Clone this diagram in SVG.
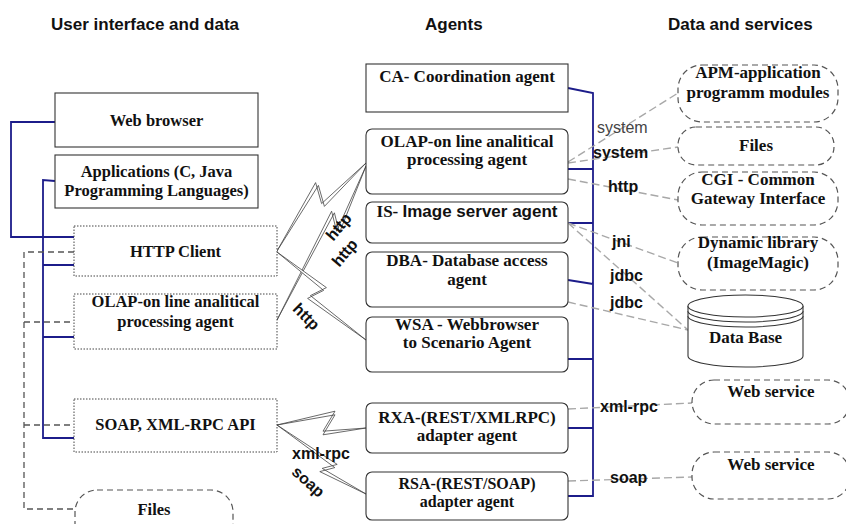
<svg xmlns="http://www.w3.org/2000/svg" width="846" height="524" viewBox="0 0 846 524">
  <style>
    .hdr { font-family: "Liberation Sans", Arial, sans-serif; font-weight: bold; font-size: 17px; fill: #111; }
    .t { font-family: "Liberation Serif", "Times New Roman", serif; font-weight: bold; font-size: 17px; fill: #111; text-anchor: middle; }
    .tl { font-family: "Liberation Serif", "Times New Roman", serif; font-weight: bold; font-size: 16.5px; fill: #111; text-anchor: middle; }
    .sm { font-size: 16px; }
    .sans { font-family: "Liberation Sans", Arial, sans-serif; }
    .lbl { font-family: "Liberation Sans", Arial, sans-serif; font-weight: bold; font-size: 16px; fill: #111; }
    .lbl-r { font-family: "Liberation Sans", Arial, sans-serif; font-size: 16px; fill: #444; }
    .box { fill: #fff; stroke: #333; stroke-width: 1.1; }
    .dotbox { fill: #fff; stroke: #444; stroke-width: 1; stroke-dasharray: 1.5 1.5; }
    .pill { fill: #fff; stroke: #555; stroke-width: 1.2; stroke-dasharray: 6 4; }
    .blue { fill: none; stroke: #1c1c8a; stroke-width: 1.8; }
    .gl { fill: none; stroke: #a8a8a8; stroke-width: 1.4; stroke-dasharray: 8 4; }
    .gd { fill: none; stroke: #555; stroke-width: 1.3; stroke-dasharray: 6 4; }
    .bolt { fill: #fff; stroke: #444; stroke-width: 0.8; stroke-linejoin: miter; }
    .db { fill: #fff; stroke: #333; stroke-width: 1.1; }
  </style>

  <!-- column headings -->
  <g id="headings">
    <text class="hdr" x="51" y="30">User interface and data</text>
    <text class="hdr" x="425" y="30">Agents</text>
    <text class="hdr" x="668" y="30">Data and services</text>
  </g>

  <!-- connectors -->
  <g id="connectors">
    <!-- left bus lines -->
    <path class="blue" d="M55,122 H11 V237 H74"/>
    <path class="blue" d="M55,181 L43,180 V438 H74 M43,265 H74 M43,337 H74"/>
    <path class="gd" d="M74,252 H24 V509 H75 M24,322 H74 M24,425 H74"/>

    <!-- agent bus -->
    <path class="blue" d="M568,88 L593,93 V496 H568 M568,169 H593 M568,223 H593 M568,280 L593,284 M568,359 H593 M568,428 H593"/>

    <!-- links to data and services -->
    <path class="gl" d="M568,162 L678,93"/>
    <path class="gl" d="M568,163 L678,147"/>
    <path class="gl" d="M568,179 L678,200"/>
    <path class="gl" d="M568,223 L678,263"/>
    <path class="gl" d="M568,223 L688,330"/>
    <path class="gl" d="M568,302 L688,330"/>
    <path class="gl" d="M568,409 L692,403"/>
    <path class="gl" d="M568,481 L692,477"/>

    <!-- lightning links -->
    <polygon class="bolt" points="277,251 315.6,182.6 321.6,203.6 366,163 324.4,206.4 318.4,185.4"/>
    <polygon class="bolt" points="277,320 331.6,211.2 336.6,231.2 366,166 339.4,232.8 334.4,212.8"/>
    <polygon class="bolt" points="277,252 326.4,287.6 310.4,295.6 366,340 307.6,298.4 323.6,290.4"/>
    <polygon class="bolt" points="277,425 335,411.2 323,431.2 366,428 323,434.8 335,414.8"/>
    <polygon class="bolt" points="277,425 337.2,464.4 322.2,468.4 366,494 319.8,471.6 334.8,467.6"/>

    <!-- link labels -->
    <text class="lbl" text-anchor="middle" transform="translate(339,227) rotate(-50)" y="5">http</text>
    <text class="lbl" text-anchor="middle" transform="translate(345,253) rotate(-50)" y="5">http</text>
    <text class="lbl" text-anchor="middle" transform="translate(306,317) rotate(45)" y="5">http</text>
    <text class="lbl" x="292" y="459">xml-rpc</text>
    <text class="lbl" text-anchor="middle" transform="translate(308,482) rotate(42)" y="5">soap</text>

    <text class="lbl-r" x="597" y="133">system</text>
    <text class="lbl" x="593" y="158">system</text>
    <text class="lbl" x="608" y="192">http</text>
    <text class="lbl" x="612" y="247">jni</text>
    <text class="lbl" x="610" y="281">jdbc</text>
    <text class="lbl" x="610" y="308">jdbc</text>
    <text class="lbl" x="600" y="412">xml-rpc</text>
    <text class="lbl" x="610" y="483">soap</text>
  </g>

  <!-- user interface and data -->
  <g id="web-browser">
    <rect class="box" x="55" y="93" width="203" height="54"/>
    <text class="tl" x="156.5" y="126">Web browser</text>
  </g>
  <g id="applications">
    <rect class="box" x="55" y="155" width="203" height="53"/>
    <text class="tl" x="156.5" y="177">Applications (C, Java</text>
    <text class="tl" x="156.5" y="196">Programming Languages)</text>
  </g>
  <g id="http-client">
    <rect class="dotbox" x="74" y="226" width="203" height="50"/>
    <text class="tl" x="175.5" y="257">HTTP Client</text>
  </g>
  <g id="olap-client">
    <rect class="dotbox" x="74" y="294" width="203" height="55"/>
    <text class="tl" x="175.5" y="307">OLAP-on line analitical</text>
    <text class="tl" x="175.5" y="327">processing agent</text>
  </g>
  <g id="soap-api">
    <rect class="dotbox" x="74" y="399" width="203" height="53"/>
    <text class="tl" x="175.5" y="430">SOAP, XML-RPC API</text>
  </g>
  <g id="files-local">
    <rect class="pill" x="75" y="490" width="158" height="56" rx="22" ry="22"/>
    <text class="tl" x="154" y="515">Files</text>
  </g>

  <!-- agents -->
  <g id="ca-agent">
    <rect class="box" x="366" y="64" width="202" height="48"/>
    <text class="t" x="467" y="82">CA- Coordination agent</text>
  </g>
  <g id="olap-agent">
    <rect class="box" x="366" y="129" width="202" height="65" rx="6"/>
    <text class="t" x="467" y="147">OLAP-on line analitical</text>
    <text class="t" x="467" y="165">processing agent</text>
  </g>
  <g id="is-agent">
    <rect class="box" x="366" y="202" width="202" height="41" rx="6"/>
    <text class="t" x="467" y="217">IS- <tspan class="sans">Image server agent</tspan></text>
  </g>
  <g id="dba-agent">
    <rect class="box" x="366" y="252" width="202" height="55" rx="6"/>
    <text class="t" x="467" y="266">DBA- Database access</text>
    <text class="t" x="467" y="285">agent</text>
  </g>
  <g id="wsa-agent">
    <rect class="box" x="366" y="317" width="202" height="55" rx="6"/>
    <text class="t" x="467" y="330">WSA - Webbrowser</text>
    <text class="t" x="467" y="348">to Scenario Agent</text>
  </g>
  <g id="rxa-agent">
    <rect class="box" x="366" y="403" width="202" height="50" rx="6"/>
    <text class="t" x="467" y="423">RXA-(REST/XMLRPC)</text>
    <text class="t" x="467" y="441">adapter agent</text>
  </g>
  <g id="rsa-agent">
    <rect class="box" x="366" y="472" width="202" height="48" rx="6"/>
    <text class="t sm" x="467" y="489">RSA-(REST/SOAP)</text>
    <text class="t sm" x="467" y="507">adapter agent</text>
  </g>

  <!-- data and services -->
  <g id="apm">
    <rect class="pill" x="678" y="65" width="160" height="57" rx="24" ry="24"/>
    <text class="t" x="758" y="78">APM-application</text>
    <text class="t" x="758" y="98">programm modules</text>
  </g>
  <g id="files">
    <rect class="pill" x="678" y="127" width="156" height="38" rx="18" ry="18"/>
    <text class="t" x="756" y="151">Files</text>
  </g>
  <g id="cgi">
    <rect class="pill" x="678" y="172" width="160" height="53" rx="24" ry="24"/>
    <text class="t" x="758" y="185">CGI - Common</text>
    <text class="t" x="758" y="204">Gateway Interface</text>
  </g>
  <g id="dynamic-library">
    <rect class="pill" x="678" y="237" width="160" height="53" rx="24" ry="24"/>
    <text class="t" x="758" y="248">Dynamic library</text>
    <text class="t" x="758" y="268">(ImageMagic)</text>
  </g>
  <g id="database">
    <path class="db" d="M688,306 V356 A57.5,11 0 0 0 803,356 V306 A57.5,11 0 0 0 688,306 Z"/>
    <path class="db" fill="none" d="M688,306 A57.5,11 0 0 0 803,306 M688,311 A57.5,11 0 0 0 803,311 M688,316 A57.5,11 0 0 0 803,316"/>
    <text class="t" x="745.5" y="343">Data Base</text>
  </g>
  <g id="web-service-1">
    <rect class="pill" x="692" y="380" width="158" height="44" rx="22" ry="22"/>
    <text class="t" x="771" y="397">Web service</text>
  </g>
  <g id="web-service-2">
    <rect class="pill" x="692" y="452" width="158" height="47" rx="22" ry="22"/>
    <text class="t" x="771" y="470">Web service</text>
  </g>
</svg>
